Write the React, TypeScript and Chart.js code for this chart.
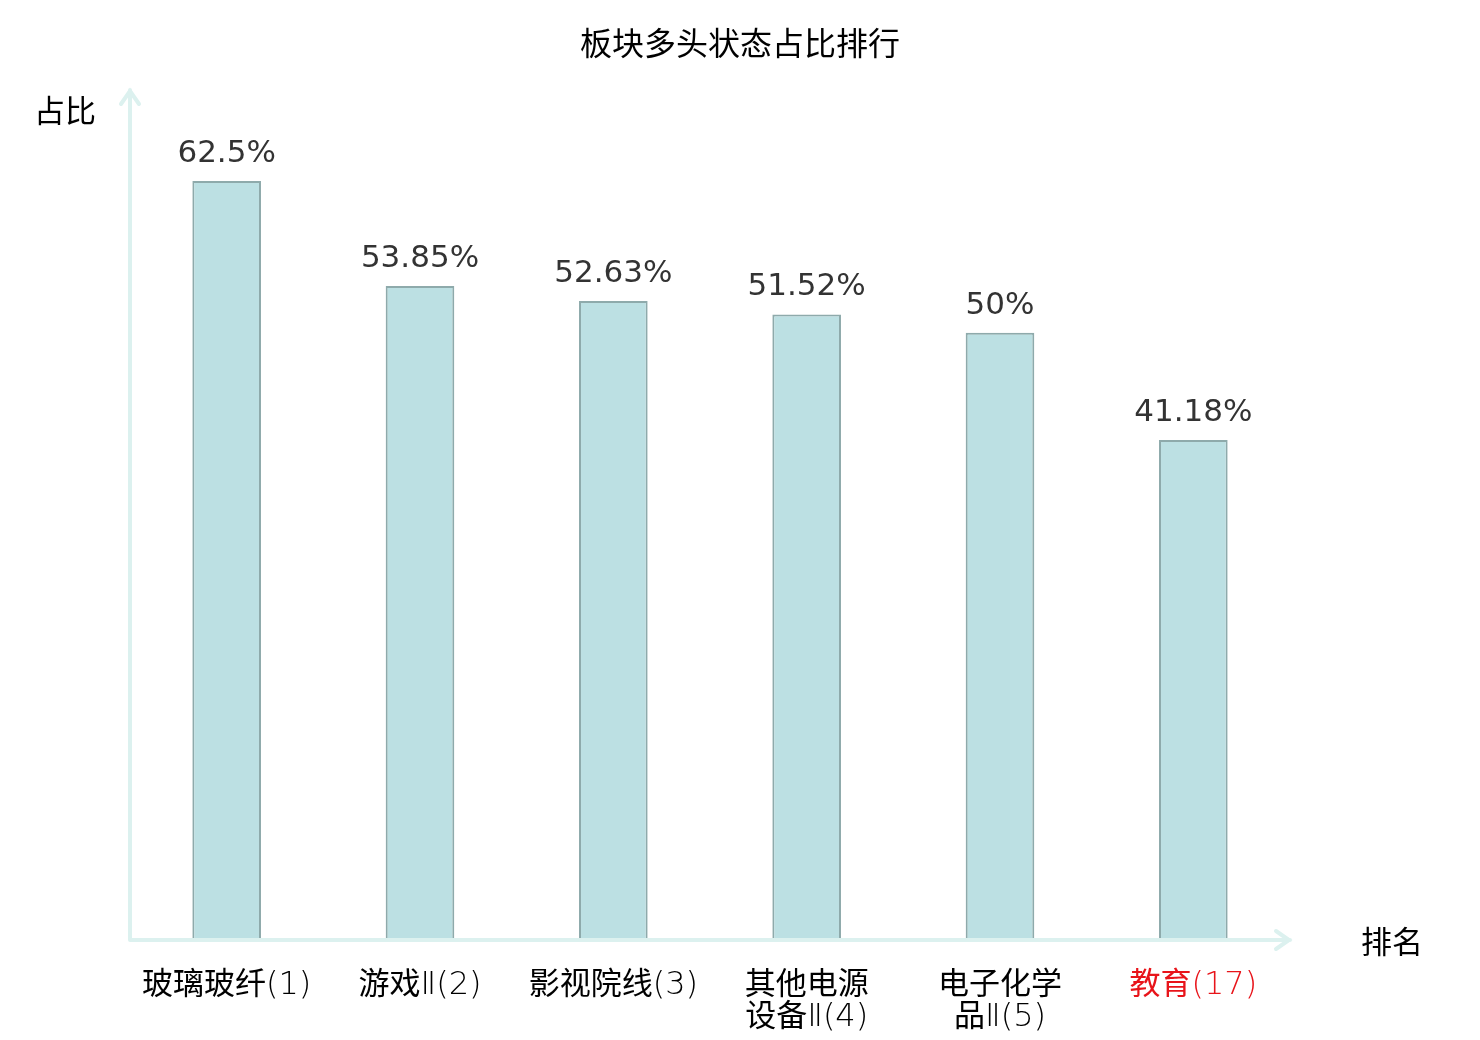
import React, { useEffect, useRef } from 'react';
import { Chart, registerables } from 'chart.js';

Chart.register(...registerables);

const chartTitle = '板块多头状态占比排行';
const categories: string[][] = [
  ['玻璃玻纤(1)'],
  ['游戏Ⅱ(2)'],
  ['影视院线(3)'],
  ['其他电源', '设备Ⅱ(4)'],
  ['电子化学', '品Ⅱ(5)'],
  ['教育(17)'],
];
const values = [62.5, 53.85, 52.63, 51.52, 50, 41.18];
const valueLabels = ['62.5%', '53.85%', '52.63%', '51.52%', '50%', '41.18%'];
const highlight = [false, false, false, false, false, true];
const yName = '占比';
const xName = '排名';

const CJK = '"Noto Sans CJK SC", "Noto Sans", sans-serif';
const CJK_FONT = `31px ${CJK}`;
const LATIN_FONT = '200 32px "DejaVu Sans", sans-serif';

// split a label into CJK and non-CJK runs so each gets its own font
const splitRuns = (s: string) => {
  const runs: { text: string; font: string }[] = [];
  for (const ch of s) {
    const font = /[\u3000-\u9fff\uff00-\uffef]/.test(ch) ? CJK_FONT : LATIN_FONT;
    const last = runs[runs.length - 1];
    if (last && last.font === font) last.text += ch;
    else runs.push({ text: ch, font });
  }
  return runs;
};

const decorPlugin = {
  id: 'decor',
  afterDatasetsDraw(chart: any) {
    const { ctx, chartArea, scales } = chart;
    const { left, right, top, bottom } = chartArea;
    ctx.save();

    // axes with arrows
    ctx.strokeStyle = '#dcf1ef';
    ctx.lineWidth = 4;
    ctx.lineCap = 'round';
    ctx.beginPath();
    ctx.moveTo(left, bottom);
    ctx.lineTo(left, top);
    ctx.moveTo(left - 9, top + 14);
    ctx.lineTo(left, top + 1);
    ctx.lineTo(left + 9, top + 14);
    ctx.moveTo(left, bottom);
    ctx.lineTo(right, bottom);
    ctx.moveTo(right - 14, bottom - 9);
    ctx.lineTo(right - 1, bottom);
    ctx.lineTo(right - 14, bottom + 9);
    ctx.stroke();

    // title
    ctx.fillStyle = '#000';
    ctx.textAlign = 'center';
    ctx.textBaseline = 'middle';
    ctx.font = `32px ${CJK}`;
    ctx.fillText(chartTitle, 740, 43);

    // axis names
    ctx.font = `31px ${CJK}`;
    ctx.textAlign = 'left';
    ctx.fillText(yName, 34, 110);
    ctx.fillText(xName, 1361, 941);

    // value labels
    const meta = chart.getDatasetMeta(0);
    ctx.fillStyle = '#333';
    ctx.font = '31px "DejaVu Sans", sans-serif';
    ctx.textAlign = 'center';
    ctx.textBaseline = 'alphabetic';
    meta.data.forEach((bar: any, i: number) => {
      ctx.fillText(valueLabels[i], bar.x, bar.y - 19);
    });

    // category labels
    ctx.textAlign = 'left';
    ctx.textBaseline = 'alphabetic';
    categories.forEach((lines, i) => {
      const cx = scales.x.getPixelForValue(i);
      ctx.fillStyle = highlight[i] ? '#e8141a' : '#000';
      lines.forEach((line, j) => {
        const runs = splitRuns(line);
        const widths = runs.map((r) => {
          ctx.font = r.font;
          return ctx.measureText(r.text).width;
        });
        let x = cx - widths.reduce((a, b) => a + b, 0) / 2;
        runs.forEach((r, k) => {
          ctx.font = r.font;
          ctx.fillText(r.text, x, 994 + j * 32);
          x += widths[k];
        });
      });
    });

    ctx.restore();
  },
};

export default function App() {
  const canvasRef = useRef<HTMLCanvasElement>(null);

  useEffect(() => {
    if (!canvasRef.current) return;
    const chart = new Chart(canvasRef.current, {
      type: 'bar',
      data: {
        labels: categories.map((c) => c.join('')),
        datasets: [
          {
            data: values,
            backgroundColor: '#bce0e3',
            borderColor: '#8eaaab',
            borderWidth: 2,
            categoryPercentage: 1,
            barPercentage: 0.355,
          },
        ],
      },
      options: {
        animation: false,
        responsive: false,
        devicePixelRatio: 1,
        layout: { padding: { left: 130, right: 190, top: 90, bottom: 100 } },
        plugins: {
          legend: { display: false },
          tooltip: { enabled: false },
          title: { display: false },
        },
        scales: {
          x: { display: false },
          y: { display: false, min: 0, max: 70 },
        },
      },
      plugins: [decorPlugin],
    });
    return () => chart.destroy();
  }, []);

  return (
    <div style={{ position: 'fixed', left: 0, top: 0, width: 1480, height: 1040, background: '#fff' }}>
      <canvas ref={canvasRef} width={1480} height={1040} />
    </div>
  );
}
